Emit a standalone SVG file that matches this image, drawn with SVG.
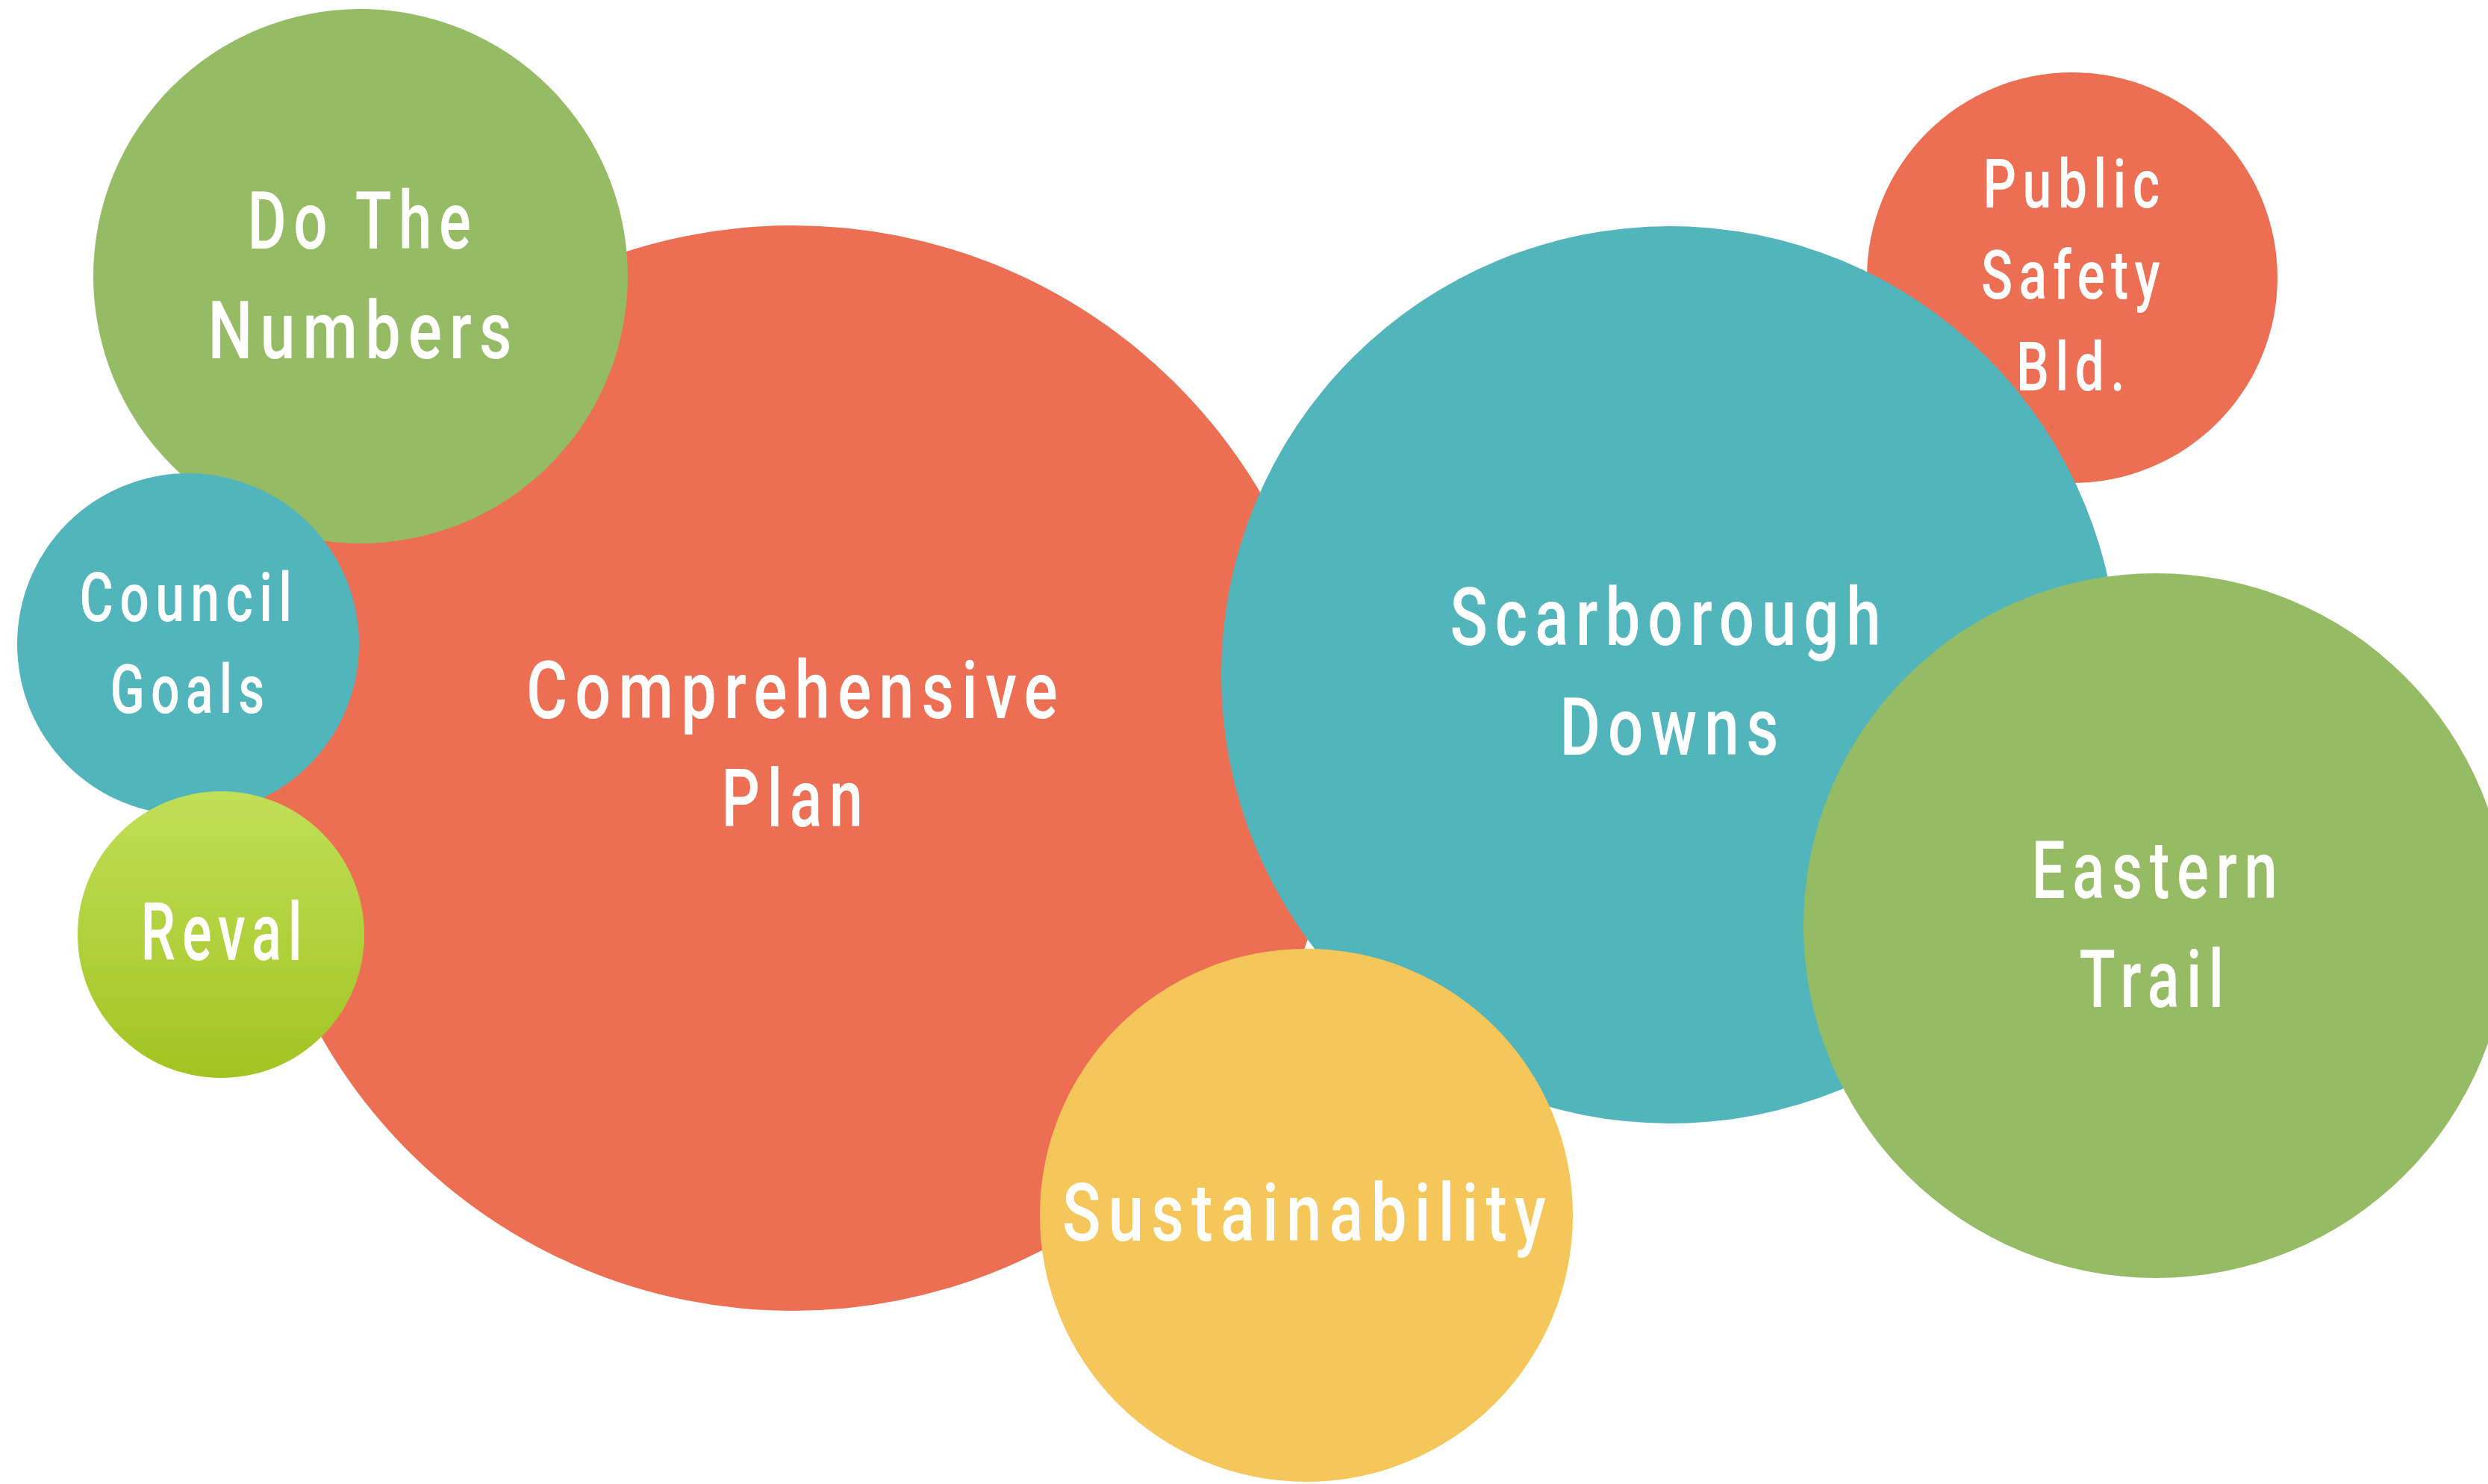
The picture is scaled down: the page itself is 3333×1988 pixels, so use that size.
<svg xmlns="http://www.w3.org/2000/svg" width="3333" height="1988" viewBox="0 0 3333 1988">
<defs>
<linearGradient id="revalGrad" x1="0" y1="0" x2="0" y2="1">
<stop offset="0" stop-color="#C0DF58"/>
<stop offset="1" stop-color="#A1C421"/>
</linearGradient>
<style>
.orange{fill:#EC6F53}
.green{fill:#95BC65}
.teal{fill:#52B5BB}
.yellow{fill:#F5C65A}
.reval{fill:url(#revalGrad)}
.lbl{font-family:"Roboto","Lato","Liberation Sans",sans-serif;font-weight:500;font-size:108px;fill:#FFFFFF;text-anchor:middle;letter-spacing:0.12em}
.sm{font-size:91px}
</style>
</defs>
<rect width="3333" height="1988" fill="#FFFFFF"/>
<g id="comprehensive-plan">
<circle class="orange" cx="1062" cy="1029" r="727"/>
<text class="lbl" x="1066" y="962" textLength="722" lengthAdjust="spacingAndGlyphs">Comprehensive</text>
<text class="lbl" x="1066" y="1107" textLength="199" lengthAdjust="spacingAndGlyphs">Plan</text>
</g>
<g id="do-the-numbers">
<circle class="green" cx="483" cy="370" r="358"/>
<text class="lbl" x="486" y="333" textLength="309" lengthAdjust="spacingAndGlyphs">Do The</text>
<text class="lbl" x="487" y="480" textLength="417" lengthAdjust="spacingAndGlyphs">Numbers</text>
</g>
<g id="council-goals">
<circle class="teal" cx="252" cy="863" r="229"/>
<text class="lbl sm" x="253" y="832" textLength="293" lengthAdjust="spacingAndGlyphs">Council</text>
<text class="lbl sm" x="255" y="955" textLength="215" lengthAdjust="spacingAndGlyphs">Goals</text>
</g>
<g id="reval">
<circle class="reval" cx="296" cy="1252" r="192"/>
<text class="lbl" x="301" y="1286" textLength="225" lengthAdjust="spacingAndGlyphs">Reval</text>
</g>
<g id="public-safety-bld">
<circle class="orange" cx="2776" cy="372" r="275"/>
<text class="lbl sm" x="2779" y="278" textLength="245" lengthAdjust="spacingAndGlyphs">Public</text>
<text class="lbl sm" x="2778" y="400" textLength="248" lengthAdjust="spacingAndGlyphs">Safety</text>
<text class="lbl sm" x="2778" y="523" textLength="154" lengthAdjust="spacingAndGlyphs">Bld.</text>
</g>
<g id="scarborough-downs">
<circle class="teal" cx="2237" cy="904" r="601"/>
<text class="lbl" x="2236" y="864" textLength="587" lengthAdjust="spacingAndGlyphs">Scarborough</text>
<text class="lbl" x="2241" y="1011" textLength="303" lengthAdjust="spacingAndGlyphs">Downs</text>
</g>
<g id="eastern-trail">
<circle class="green" cx="2888" cy="1240" r="472"/>
<text class="lbl" x="2891" y="1203" textLength="339" lengthAdjust="spacingAndGlyphs">Eastern</text>
<text class="lbl" x="2887" y="1349" textLength="203" lengthAdjust="spacingAndGlyphs">Trail</text>
</g>
<g id="sustainability">
<circle class="yellow" cx="1750" cy="1628" r="357"/>
<text class="lbl" x="1752" y="1662" textLength="658" lengthAdjust="spacingAndGlyphs">Sustainability</text>
</g>
<g id="connectors"></g>
</svg>
